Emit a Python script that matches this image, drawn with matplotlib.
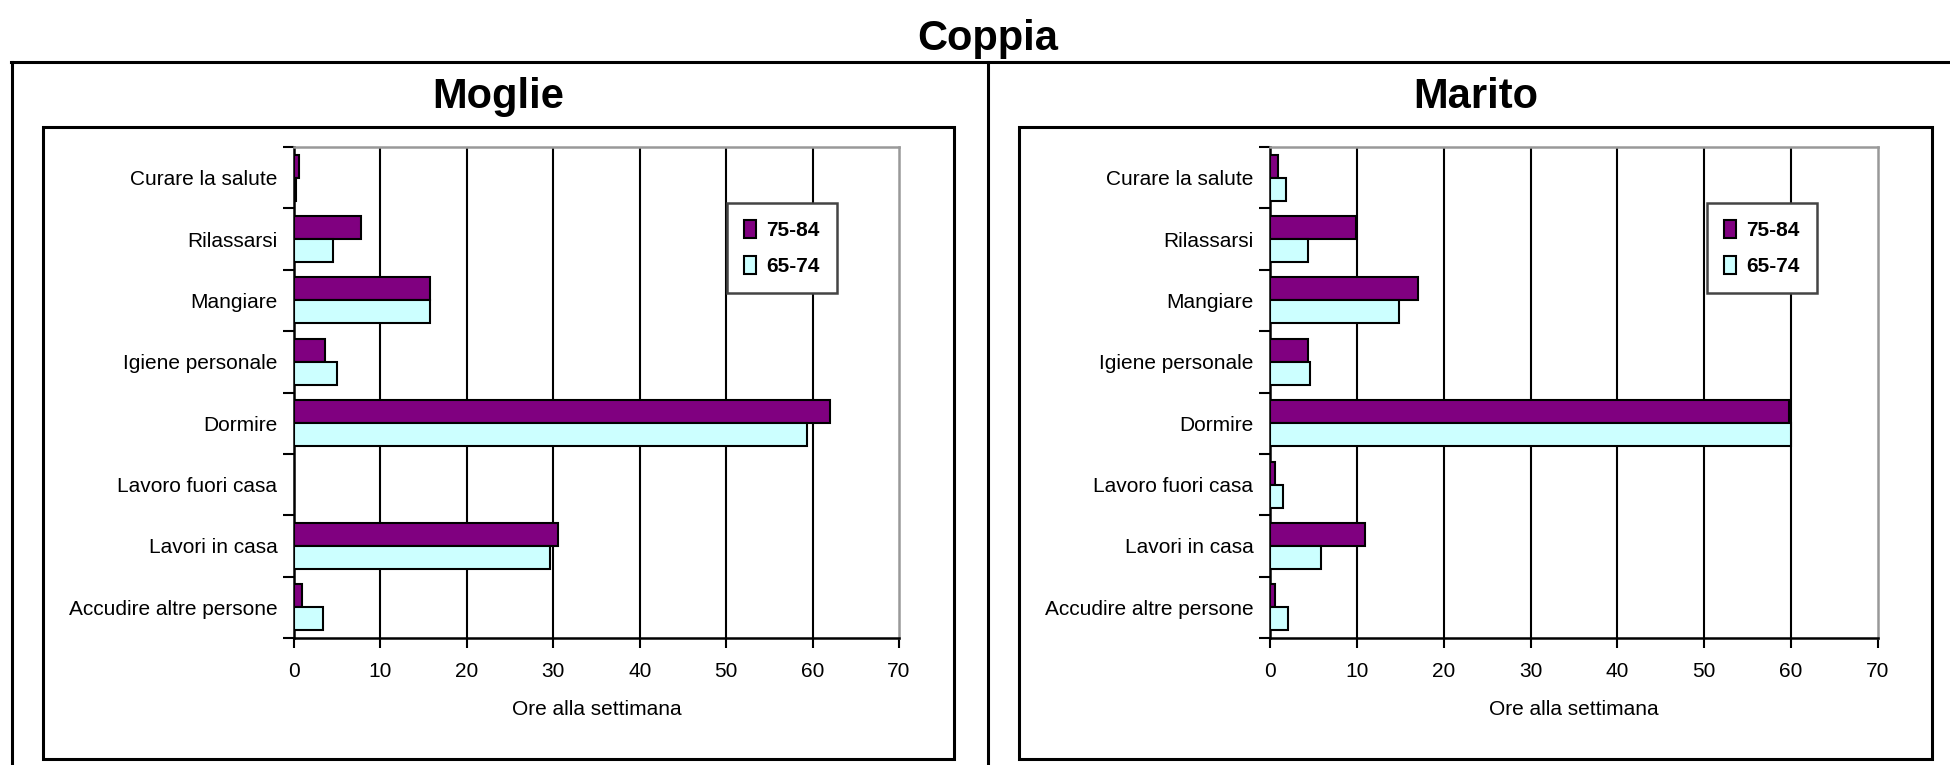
import numpy as np
import matplotlib
matplotlib.use("Agg")
import matplotlib.pyplot as plt
from matplotlib.patches import Rectangle
from matplotlib.lines import Line2D

plt.rcParams['font.family'] = ['Liberation Sans', 'DejaVu Sans']

categories = ["Curare la salute", "Rilassarsi", "Mangiare", "Igiene personale",
              "Dormire", "Lavoro fuori casa", "Lavori in casa", "Accudire altre persone"]
series_names = ["75-84", "65-74"]
moglie_7584 = [0.6, 7.8, 15.7, 3.6, 62.0, 0.0, 30.6, 0.9]
moglie_6574 = [0.2, 4.5, 15.7, 5.0, 59.3, 0.0, 29.6, 3.3]
marito_7584 = [0.9, 9.9, 17.0, 4.4, 59.8, 0.6, 10.9, 0.6]
marito_6574 = [1.8, 4.4, 14.8, 4.6, 60.0, 1.5, 5.9, 2.1]
xticks = [0, 10, 20, 30, 40, 50, 60, 70]

W, H = 1950, 765
fig = plt.figure(figsize=(W / 100, H / 100), dpi=100)


def fx(px):
    return px / W


def fy(py):
    return 1 - py / H


# outer frame lines
for xs, ys in [((11, W), (62, 62)), ((12, 12), (62, H)), ((988, 988), (62, H))]:
    fig.add_artist(Line2D([fx(v) for v in xs], [fy(v) for v in ys], color='black', lw=2.2,
                          transform=fig.transFigure))

fig.text(fx(988), fy(50), "Coppia", ha='center', va='baseline', fontsize=30, fontweight='bold')


def panel(title, box, plot, legend_pos, v1, v2):
    bx0, bx1, by0, by1 = box
    fig.add_artist(Rectangle((fx(bx0), fy(by1)), fx(bx1 - bx0), (by1 - by0) / H, fill=False,
                             edgecolor='black', lw=2.2, transform=fig.transFigure))
    fig.text(fx((bx0 + bx1) / 2), fy(108), title, ha='center', va='baseline',
             fontsize=30, fontweight='bold')

    px0, px1, py0, py1 = plot
    ax = fig.add_axes([fx(px0), fy(py1), fx(px1 - px0), (py1 - py0) / H])
    y = np.arange(len(categories))
    h = 0.375
    ax.barh(y - h / 2, v1, height=h, color='#800080', edgecolor='black', lw=1.5,
            label=series_names[0], zorder=3)
    ax.barh(y + h / 2, v2, height=h, color='#CCFFFF', edgecolor='black', lw=1.5,
            label=series_names[1], zorder=3)
    ax.set_xlim(0, 70)
    ax.set_ylim(len(categories) - 0.5, -0.5)
    ax.set_xticks(xticks)
    ax.set_xticklabels([str(t) for t in xticks], fontsize=15)
    ax.set_yticks(y)
    ax.set_yticklabels(categories, fontsize=15)
    ax.set_yticks(np.arange(len(categories) + 1) - 0.5, minor=True)
    ax.tick_params(axis='y', which='major', length=0, pad=12)
    ax.tick_params(axis='y', which='minor', length=8, width=1.5, direction='out')
    ax.tick_params(axis='x', length=7, width=1.5, direction='out', pad=10)
    for t in xticks[1:-1]:
        ax.axvline(t, color='black', lw=1.5, zorder=1)
    ax.spines['left'].set_linewidth(1.8)
    ax.spines['bottom'].set_linewidth(1.8)
    ax.spines['top'].set_color('#999999')
    ax.spines['right'].set_color('#999999')
    ax.spines['top'].set_linewidth(1.8)
    ax.spines['right'].set_linewidth(1.8)
    ax.set_xlabel("Ore alla settimana", fontsize=15, labelpad=14)

    lx0, lx1, ly0, ly1 = legend_pos
    leg = ax.legend(loc='upper left', bbox_to_anchor=(fx(lx0), fy(ly0)),
                    bbox_transform=fig.transFigure, borderaxespad=0,
                    prop={'size': 15, 'weight': 'bold'}, handlelength=0.6, handleheight=1.0,
                    handletextpad=0.5, labelspacing=0.75, borderpad=0.8, fancybox=False,
                    framealpha=1, edgecolor='#444444')
    leg.get_frame().set_linewidth(1.8)
    return ax


panel("Moglie", (43, 954, 127, 759), (294, 899, 147, 638), (727, 844, 203, 283),
      moglie_7584, moglie_6574)
panel("Marito", (1019, 1932, 127, 759), (1270, 1878, 147, 638), (1707, 1825, 203, 283),
      marito_7584, marito_6574)

fig.savefig("out.png", dpi=100, facecolor='white')
